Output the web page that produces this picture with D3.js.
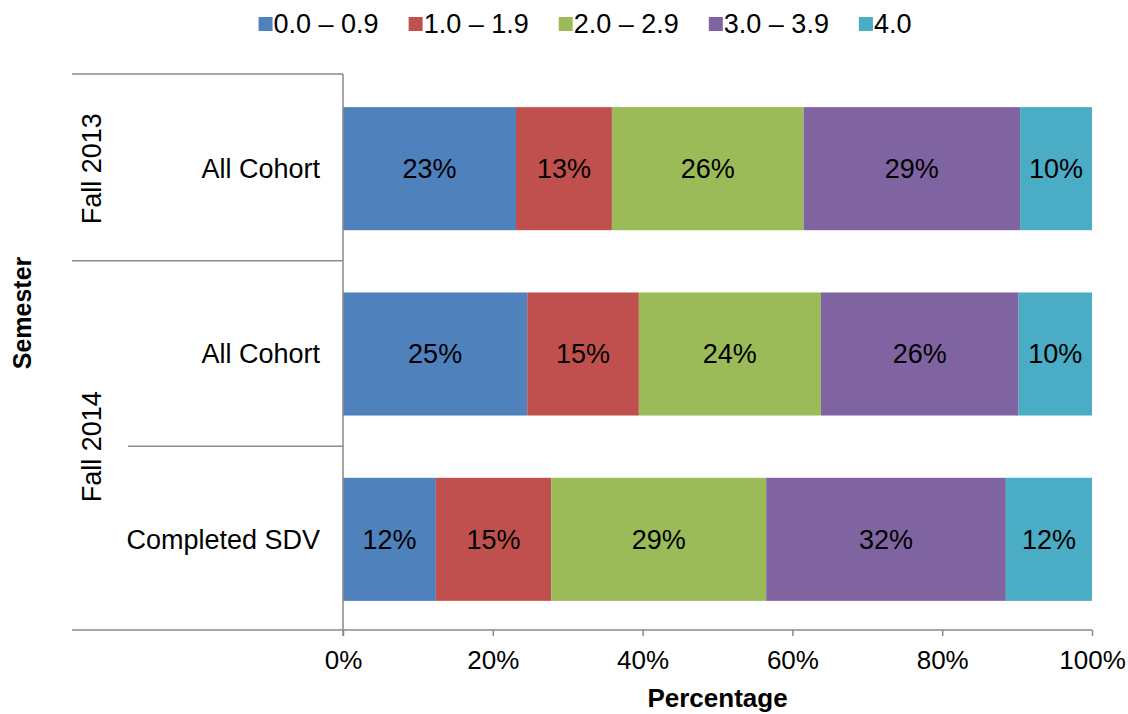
<!DOCTYPE html>
<html>
<head>
<meta charset="utf-8">
<script src="https://cdn.jsdelivr.net/npm/d3@7"></script>
<style>
  html, body { margin: 0; padding: 0; background: #fff; }
  svg { display: block; font-family: "Liberation Sans", Arial, sans-serif; }
</style>
</head>
<body>
<svg id="chart" width="1128" height="714"></svg>
<script>
// GPA distribution by semester and cohort (percent of students)
const series = ["0.0 – 0.9", "1.0 – 1.9", "2.0 – 2.9", "3.0 – 3.9", "4.0"];
const colors = ["#4F81BD", "#C0504D", "#9BBB59", "#8064A2", "#4BACC6"];

const semesters = ["Fall 2013", "Fall 2014", "Fall 2014"];
const groups = ["All Cohort", "All Cohort", "Completed SDV"];

const gpa00 = [23.1, 24.6, 12.4];
const gpa10 = [12.8, 14.9, 15.4];
const gpa20 = [25.6, 24.3, 28.7];
const gpa30 = [28.9, 26.4, 32.0];
const gpa40 = [9.6, 9.8, 11.5];

const xTicks = [0, 20, 40, 60, 80, 100];

const seriesValues = [gpa00, gpa10, gpa20, gpa30, gpa40];
const rows = groups.map((g, i) => {
  const r = { id: i, semester: semesters[i], group: g };
  series.forEach((s, k) => { r[s] = seriesValues[k][i]; });
  return r;
});

const svg = d3.select("#chart");
const plotLeft = 343, plotRight = 1092, plotTop = 74, plotBottom = 630;
const axisColor = "#898989";
const fontSize = 27;

const x = d3.scaleLinear().domain([0, 100]).range([plotLeft, plotRight]);
const y = d3.scaleBand().domain(rows.map(r => r.id)).range([plotTop, plotBottom])
  .paddingInner(0.336).paddingOuter(0.168);
const barShift = 2; // bars sit slightly below the centre of each row

const stacked = d3.stack().keys(series)(rows);

// stacked bars
const layers = svg.append("g").selectAll("g").data(stacked).join("g")
  .attr("fill", (d, i) => colors[i]);

layers.selectAll("rect").data(d => d).join("rect")
  .attr("x", d => x(d[0]))
  .attr("y", d => y(d.data.id) + barShift)
  .attr("width", d => x(d[1]) - x(d[0]))
  .attr("height", y.bandwidth());

// value labels
layers.selectAll("text").data(d => d).join("text")
  .attr("x", d => (x(d[0]) + x(d[1])) / 2)
  .attr("y", d => y(d.data.id) + barShift + y.bandwidth() / 2)
  .attr("dy", "0.35em")
  .attr("text-anchor", "middle")
  .attr("fill", "#000")
  .style("font-size", fontSize + "px")
  .text(d => Math.round(d[1] - d[0]) + "%");

// x axis
const xAxis = svg.append("g").attr("transform", `translate(0,${plotBottom})`)
  .call(d3.axisBottom(x).tickValues(xTicks).tickFormat(d => d + "%").tickSize(6).tickSizeOuter(0));
xAxis.select(".domain").remove();
xAxis.selectAll(".tick line").attr("stroke", axisColor).attr("stroke-width", 1.5);
xAxis.selectAll(".tick text")
  .attr("y", 30).attr("dy", "0.35em")
  .attr("fill", "#000")
  .style("font-size", "26px")
  .style("font-family", "'Liberation Sans', Arial, sans-serif");

// baseline across category area and plot
svg.append("line")
  .attr("x1", 72).attr("x2", plotRight).attr("y1", plotBottom).attr("y2", plotBottom)
  .attr("stroke", axisColor).attr("stroke-width", 1.5);

// vertical category axis
svg.append("line")
  .attr("x1", plotLeft).attr("x2", plotLeft).attr("y1", plotTop).attr("y2", plotBottom + 6)
  .attr("stroke", axisColor).attr("stroke-width", 1.5);

// category divider lines
const step = y.step();
const rowTop = id => y(id) - y.paddingInner() * step / 2;
const dividers = [
  { y: rowTop(0), x1: 72 },
  { y: rowTop(1) + 1.5, x1: 72 },
  { y: rowTop(2) + 1.5, x1: 128 }
];
svg.append("g").selectAll("line").data(dividers).join("line")
  .attr("x1", d => d.x1).attr("x2", plotLeft)
  .attr("y1", d => d.y).attr("y2", d => d.y)
  .attr("stroke", axisColor).attr("stroke-width", 1.5);

// inner category labels
svg.append("g").selectAll("text").data(rows).join("text")
  .attr("x", 320)
  .attr("y", d => y(d.id) + barShift + y.bandwidth() / 2)
  .attr("dy", "0.35em")
  .attr("text-anchor", "end")
  .style("font-size", fontSize + "px")
  .text(d => d.group);

// semester labels, centered over their rows
const semGroups = d3.groups(rows, d => d.semester).map(([name, rs]) => ({
  name,
  cy: (rowTop(rs[0].id) + rowTop(rs[rs.length - 1].id) + step) / 2 + barShift
}));
svg.append("g").selectAll("text").data(semGroups).join("text")
  .attr("transform", d => `translate(92,${d.cy}) rotate(-90)`)
  .attr("dy", "0.35em")
  .attr("text-anchor", "middle")
  .style("font-size", fontSize + "px")
  .text(d => d.name);

// axis titles
svg.append("text")
  .attr("x", (plotLeft + plotRight) / 2).attr("y", 698).attr("dy", "0.35em")
  .attr("text-anchor", "middle")
  .style("font-size", "26px").style("font-weight", "bold")
  .text("Percentage");

svg.append("text")
  .attr("transform", "translate(22,313) rotate(-90)")
  .attr("dy", "0.35em")
  .attr("text-anchor", "middle")
  .style("font-size", "25px").style("font-weight", "bold")
  .text("Semester");

// legend
const legend = svg.append("g");
let lx = 0;
series.forEach((s, i) => {
  const g = legend.append("g").attr("transform", `translate(${lx},0)`);
  g.append("rect").attr("x", 0).attr("y", -7).attr("width", 14).attr("height", 14).attr("fill", colors[i]);
  const t = g.append("text").attr("x", 15).attr("dy", "0.35em")
    .style("font-size", fontSize + "px").text(s);
  lx += 15 + t.node().getComputedTextLength() + 30;
});
const legendWidth = lx - 30;
legend.attr("transform", `translate(${585 - legendWidth / 2},24)`);
</script>
</body>
</html>
